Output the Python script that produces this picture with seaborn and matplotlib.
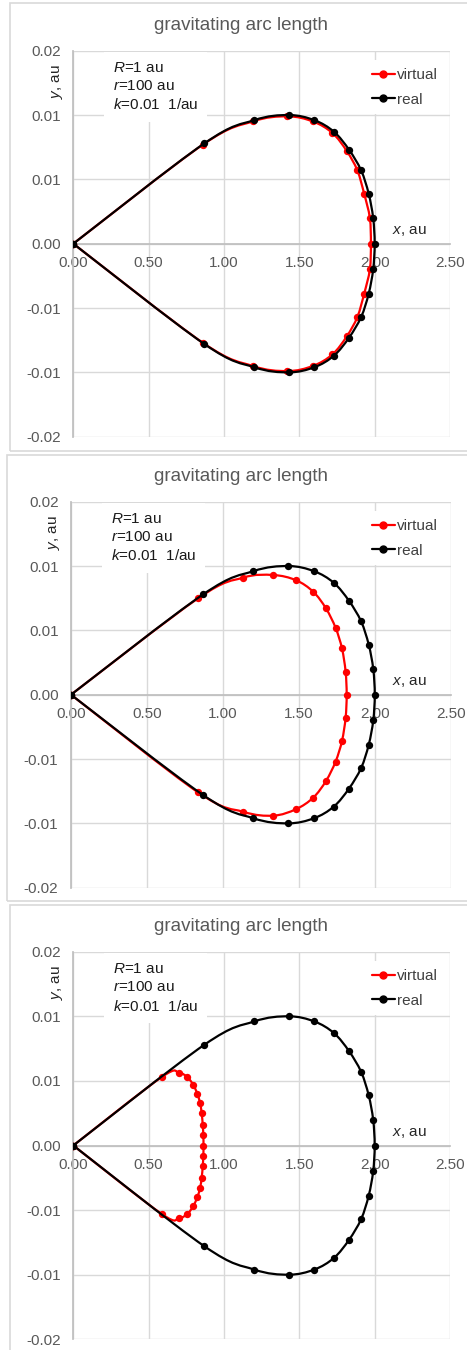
"""
gravitating arc length — three stacked panels (virtual vs real).
"""

import matplotlib
matplotlib.use("Agg")
import matplotlib.pyplot as plt
from matplotlib.path import Path
from matplotlib.patches import PathPatch, Rectangle
from matplotlib.lines import Line2D
import seaborn as sns
import numpy as np

# ============================================================
# data
# ============================================================
REAL_X = [0.00, 0.87, 1.20, 1.43, 1.60, 1.73, 1.83, 1.91, 1.96, 1.99, 2.00,
          1.99, 1.96, 1.91, 1.83, 1.73, 1.60, 1.43, 1.20, 0.87, 0.00]
REAL_Y = [0.0, 0.0078, 0.0096, 0.0100, 0.0096, 0.0087, 0.0073, 0.0057, 0.0039, 0.0020, 0.0,
          -0.0020, -0.0039, -0.0057, -0.0073, -0.0087, -0.0096, -0.0100, -0.0096, -0.0078, 0.0]

VIRTUAL1_X = [0.00, 0.86, 1.19, 1.42, 1.59, 1.72, 1.815, 1.885, 1.93, 1.968, 1.975,
              1.968, 1.93, 1.885, 1.815, 1.72, 1.59, 1.42, 1.19, 0.86, 0.00]
VIRTUAL1_Y = [0.0, 0.0077, 0.0095, 0.0099, 0.0095, 0.0086, 0.0072, 0.0057, 0.0039, 0.0020, 0.0,
              -0.0020, -0.0039, -0.0057, -0.0072, -0.0086, -0.0095, -0.0099, -0.0095, -0.0077, 0.0]

VIRTUAL2_X = [0.00, 0.838, 1.134, 1.332, 1.481, 1.595, 1.679, 1.742, 1.784, 1.808, 1.815,
              1.808, 1.784, 1.742, 1.679, 1.595, 1.481, 1.332, 1.134, 0.838, 0.00]
VIRTUAL2_Y = [0.0, 0.0075, 0.0091, 0.0093, 0.0089, 0.0080, 0.0067, 0.0052, 0.0036, 0.0018, 0.0,
              -0.0018, -0.0036, -0.0052, -0.0067, -0.0080, -0.0089, -0.0094, -0.0091, -0.0076, 0.0]

VIRTUAL3_X = [0.00, 0.587, 0.701, 0.756, 0.796, 0.823, 0.841, 0.852, 0.859, 0.863, 0.864,
              0.863, 0.859, 0.852, 0.841, 0.823, 0.796, 0.756, 0.701, 0.587, 0.00]
VIRTUAL3_Y = [0.0, 0.0053, 0.0056, 0.0053, 0.0047, 0.0040, 0.0033, 0.0025, 0.0016, 0.0008, 0.0,
              -0.0008, -0.0016, -0.0025, -0.0033, -0.0040, -0.0047, -0.0053, -0.0056, -0.0053, 0.0]

X_TICKS = [0.0, 0.5, 1.0, 1.5, 2.0, 2.5]
X_TICK_LABELS = ["0.00", "0.50", "1.00", "1.50", "2.00", "2.50"]
Y_TICKS = [-0.015, -0.01, -0.005, 0.0, 0.005, 0.01, 0.015]
Y_TICK_LABELS = ["-0.02", "-0.01", "-0.01", "0.00", "0.01", "0.01", "0.02"]

TITLE = "gravitating arc length"
PARAMS = "$\\it{R}$=1 au\n$\\it{r}$=100 au\n$\\it{k}$=0.01  1/au"

# ============================================================
# style
# ============================================================
sns.set_theme(style="white")
plt.rcParams["font.family"] = ["Liberation Sans", "DejaVu Sans"]
plt.rcParams["mathtext.fontset"] = "custom"
plt.rcParams["mathtext.rm"] = "Liberation Sans"
plt.rcParams["mathtext.it"] = "Liberation Sans:italic"

W, H = 467, 1350
GRID = "#d9d9d9"
AXIS = "#bfbfbf"
GRAY_TXT = "#595959"
RED = "#ff0000"
BLACK = "#000000"
FS = 11


def smooth_path(xs, ys):
    """Excel-like smoothed line (Catmull-Rom -> cubic Bezier) in data coords."""
    pts = np.column_stack([xs, ys])
    n = len(pts)
    verts = [pts[0]]
    codes = [Path.MOVETO]
    for i in range(n - 1):
        p0 = pts[i - 1] if i > 0 else pts[i]
        p1 = pts[i]
        p2 = pts[i + 1]
        p3 = pts[i + 2] if i + 2 < n else pts[i + 1]
        verts += [p1 + (p2 - p0) / 6, p2 - (p3 - p1) / 6, p2]
        codes += [Path.CURVE4] * 3
    return Path(verts, codes)


def draw_series(ax, xs, ys, color, z):
    ax.add_patch(PathPatch(smooth_path(xs, ys), fill=False, edgecolor=color,
                           linewidth=1.6, zorder=z, capstyle="round"))
    sns.scatterplot(x=xs, y=ys, ax=ax, color=color, s=28, linewidth=0,
                    zorder=z + 0.5, legend=False)


def px_axes(left, right, top, bottom):
    return [left / W, 1 - bottom / H, (right - left) / W, (bottom - top) / H]


fig = plt.figure(figsize=(W / 100, H / 100), dpi=100)

# panel borders (pixels: left, top, bottom)
for l, t, b in [(10, 3, 451), (7, 455, 901), (10, 905, 1352)]:
    fig.add_artist(Rectangle((l / W, 1 - b / H), (W + 5 - l) / W, (b - t) / H,
                             transform=fig.transFigure, fill=False,
                             edgecolor=GRID, linewidth=1.2))

PANELS = [
    (px_axes(73.3, 450, 50.7, 436.7), VIRTUAL1_X, VIRTUAL1_Y),
    (px_axes(71, 450.7, 501.7, 887.7), VIRTUAL2_X, VIRTUAL2_Y),
    (px_axes(73.3, 450, 951.7, 1339.3), VIRTUAL3_X, VIRTUAL3_Y),
]

for rect, vx, vy in PANELS:
    ax = fig.add_axes(rect)
    ax.set_xlim(0, 2.5)
    ax.set_ylim(-0.015, 0.015)
    ax.set_xticks(X_TICKS)
    ax.set_xticklabels(X_TICK_LABELS)
    ax.set_yticks(Y_TICKS)
    ax.set_yticklabels(Y_TICK_LABELS)
    ax.tick_params(length=0, labelsize=FS, labelcolor=GRAY_TXT, pad=9)
    ax.grid(True, color=GRID, linewidth=1)
    ax.set_axisbelow(True)
    for s in ["top", "right"]:
        ax.spines[s].set_visible(False)
    ax.spines["bottom"].set_position(("data", 0))
    ax.spines["bottom"].set_color(AXIS)
    ax.spines["left"].set_color(AXIS)
    ax.spines["bottom"].set_zorder(1)
    ax.spines["left"].set_zorder(1)

    draw_series(ax, vx, vy, RED, 4)
    draw_series(ax, REAL_X, REAL_Y, BLACK, 6)

    ax.text(0.4465, 1.066, TITLE, transform=ax.transAxes, ha="center",
            va="center", fontsize=13.5, color=GRAY_TXT)
    ax.text(0.1046, 0.974, PARAMS, transform=ax.transAxes, ha="left",
            va="top", fontsize=FS, color="#1a1a1a", linespacing=1.38,
            zorder=8,
            bbox=dict(facecolor="white", edgecolor="none",
                      boxstyle="square,pad=0.6"))
    ax.text(-0.043, 0.9215, "$\\it{y}$, au", transform=ax.transAxes,
            rotation=90, ha="center", va="center", fontsize=FS,
            color="#262626")
    ax.text(0.891, 0.533, "$\\it{x}$, au", transform=ax.transAxes,
            ha="center", va="center", fontsize=FS, color="#262626")

    handles = [
        Line2D([], [], color=RED, marker="o", markersize=5, linewidth=1.6),
        Line2D([], [], color=BLACK, marker="o", markersize=5, linewidth=1.6),
    ]
    leg = ax.legend(handles, ["virtual", "real"], loc="upper left",
                    bbox_to_anchor=(0.772, 0.975), borderaxespad=0,
                    fontsize=FS, handlelength=1.5, handletextpad=0.15,
                    labelspacing=0.7, borderpad=0.5, frameon=True,
                    fancybox=False, framealpha=1)
    leg.get_frame().set_edgecolor("none")
    leg.get_frame().set_facecolor("white")
    leg.set_zorder(9)
    for t in leg.get_texts():
        t.set_color("#404040")

fig.savefig("out.png", dpi=100, facecolor="white")
